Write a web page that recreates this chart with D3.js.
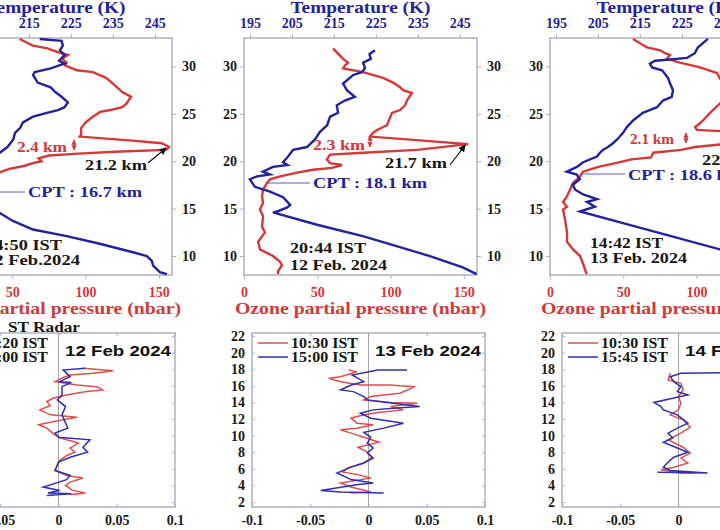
<!DOCTYPE html>
<html lang="en">
<head>
<meta charset="UTF-8" />
<title>Ozonesonde and ST radar profiles</title>
<script src="https://cdn.jsdelivr.net/npm/d3@7"></script>
<style>
  body { margin: 0; background: #fff; }
  svg { display: block; }
</style>
</head>
<body>
<svg width="720" height="530"></svg>
<script>
// ---- ozonesonde profiles: [altitude km, temperature K] ----
const temp12a = [[32.9,217.6],[32.7,222.8],[32.2,223.1],[31.7,222.4],[31.2,223.5],[30.6,222.2],[30.3,223.5],[29.8,220.2],[29.4,216.4],[29.1,216.0],[28.3,217.1],[27.8,220.2],[27.3,221.3],[26.8,222.8],[26.2,224.3],[25.7,223.5],[25.4,221.9],[25.1,219.3],[24.7,216.0],[24.1,213.6],[23.5,212.9],[23.0,211.7],[22.3,211.3],[21.5,209.9],[20.9,208.1],[20.3,206.5],[19.6,204.5],[18.8,202.0],[18.0,200.0],[17.3,198.0],[16.7,196.5],[16.2,198.5],[15.6,201.5],[15.1,204.5],[14.7,207.5],[13.7,211.2],[12.8,216.0],[12.1,224.0],[11.3,231.9],[10.4,239.8],[10.0,243.1],[9.5,244.3],[9.0,244.6],[8.3,246.2],[8.1,247.9]];
const temp12b = [[31.7,224.8],[31.3,223.5],[30.8,223.8],[30.4,222.0],[29.8,222.4],[29.4,221.7],[29.1,219.6],[28.2,217.2],[27.5,218.1],[26.8,220.0],[26.4,217.6],[25.9,215.7],[25.1,216.0],[24.7,214.1],[23.8,213.4],[23.1,211.7],[22.3,210.5],[21.5,208.6],[21.2,205.3],[20.5,204.1],[19.9,202.9],[19.6,204.0],[19.4,200.5],[18.9,198.1],[18.6,199.8],[18.4,196.7],[18.1,195.0],[17.3,196.2],[16.8,199.8],[16.2,202.9],[15.4,204.6],[15.1,203.8],[14.7,201.5],[14.6,200.5],[13.3,211.0],[12.1,221.9],[10.0,237.9],[8.8,245.7],[8.1,249.0]];
const temp13 = [[32.9,231.2],[32.0,228.8],[31.4,228.1],[30.9,226.2],[30.8,223.8],[30.7,221.5],[30.6,218.6],[30.3,217.4],[29.9,217.9],[29.6,220.3],[28.8,221.7],[28.2,222.2],[27.5,222.9],[26.8,222.6],[26.4,220.5],[25.7,219.1],[25.1,215.7],[24.3,213.4],[23.6,211.9],[23.0,211.0],[22.3,209.6],[21.9,208.6],[21.5,207.4],[21.2,206.2],[20.9,205.5],[20.5,204.8],[19.9,201.5],[19.4,200.0],[18.9,197.6],[18.6,200.0],[18.1,200.7],[17.5,199.0],[17.0,199.6],[16.5,201.5],[16.0,204.8],[15.7,202.4],[15.2,204.3],[14.7,200.7],[10.7,234.1],[9.5,242.0],[8.1,248.0]];

// ---- ozone partial pressure: [altitude km, nbar] ----
const ozone12a = [[32.9,55],[32.2,64],[31.9,74],[31.5,81],[31.2,88],[30.8,84],[30.4,87],[30.1,86],[29.6,94],[29.4,105],[28.8,114],[28.0,120],[27.3,125],[26.8,131],[26.1,128],[25.7,125],[25.4,117],[25.2,110],[24.7,105],[24.1,100],[23.5,97],[22.8,97],[22.6,96],[22.2,130],[21.9,152],[21.5,157],[21.2,155],[21.0,120],[20.8,95],[20.6,75],[20.3,68],[20.0,70],[19.8,64],[19.5,58],[19.2,48],[18.8,41],[18.3,32],[17.8,24],[17.2,18],[16.5,15],[15.8,13],[15.0,12],[14.2,13],[13.3,11],[12.5,12],[11.6,10],[10.8,12],[10.0,17],[9.3,21],[8.6,22],[8.1,23]];
const ozone12b = [[31.9,60.7],[30.8,67.6],[30.4,71],[30.1,68.9],[29.8,67.6],[29.4,81.2],[28.8,94.9],[28.3,101.7],[27.8,106.5],[27.5,108.5],[27.2,114.6],[26.4,111.2],[25.9,109.9],[25.4,106.5],[25.1,101],[24.6,99.6],[23.8,97.6],[23.3,90.8],[23.0,88],[22.6,86],[22.2,120],[21.8,153],[21.2,118],[20.9,81.2],[20.7,58.7],[20.2,56.6],[19.8,58.7],[19.6,66.9],[19.3,60],[19.1,47.1],[18.8,36.2],[18.4,24.6],[18.1,17.7],[17.7,15.7],[17.0,13],[16.3,12.3],[15.6,13],[14.9,10.9],[14.2,13],[13.1,12.3],[12.5,14.3],[11.5,9.6],[10.7,10.9],[10.0,19.8],[9.4,24.6],[9.0,25.9],[8.4,23.2],[8.1,23.2]];
const ozone13 = [[32.9,56.6],[32.0,66.2],[31.7,75.1],[31.4,78.5],[31.2,81.9],[30.8,79.8],[30.4,88.7],[29.9,102.4],[29.3,114],[28.7,116],[28.0,122],[27.3,128],[26.8,126],[26.1,116],[25.1,109.2],[24.3,104.4],[24.0,102.4],[23.6,99],[23.3,100.3],[23.1,125],[22.7,150],[22.4,156],[22.0,150],[21.8,118],[21.5,99],[21.2,89.5],[20.9,70.5],[20.4,69],[20.2,55.6],[19.8,44.7],[19.4,33],[18.9,22.5],[18.4,20.5],[17.7,15.7],[17.0,13.6],[16.3,11.6],[15.7,8.9],[15.2,11.6],[14.9,8.9],[13.9,10.2],[12.5,11.6],[11.5,11.6],[10.7,15.7],[10.0,20.5],[9.0,23],[8.1,25]];

const sondeTimes = ["14:50 IST", "20:44 IST", "14:42 IST"];
const sondeDates = ["12 Feb.2024", "12 Feb. 2024", "13 Feb. 2024"];
const gapLabels = ["2.4 km", "2.3 km", "2.1 km"];
const peakLabels = ["21.2 km", "21.7 km", "22.4 km"];
const cptLabels = ["CPT : 16.7 km", "CPT : 18.1 km", "CPT : 18.6 km"];
const tempTicks = [195, 205, 215, 225, 235, 245];
const ozoneTicks = [0, 50, 100, 150];
const altTicks = [10, 15, 20, 25, 30];

// ---- ST radar profiles: [altitude km, value] ----
const radar12am = [[18.1,0.021],[17.8,0.047],[17.5,0.030],[17.3,0.010],[17.0,0.004],[16.5,-0.003],[16.1,0.016],[15.9,0.033],[15.5,0.038],[15.3,0.024],[14.9,0.007],[14.5,-0.005],[14.1,-0.010],[13.6,-0.007],[13.1,-0.016],[12.5,-0.007],[12.2,0.016],[11.8,-0.001],[11.3,-0.017],[10.9,-0.010],[10.3,-0.005],[9.8,0.000],[9.5,0.007],[9.1,0.017],[8.5,0.010],[8.0,0.014],[7.6,0.007],[7.0,0.001],[6.4,-0.001],[5.8,-0.003],[5.2,0.007],[4.9,0.021],[4.4,0.010],[4.0,0.006],[3.4,0.012],[3.1,0.023],[2.9,0.010]];
const radar12pm = [[18.1,0.023],[17.9,0.004],[17.1,0.010],[16.5,0.001],[16.4,0.011],[15.9,0.003],[14.9,0.003],[14.3,-0.001],[13.5,0.006],[12.5,0.003],[10.9,0.008],[10.3,-0.003],[9.8,0.000],[9.5,0.027],[8.6,0.021],[8.0,0.025],[7.4,0.010],[6.8,0.000],[5.8,-0.003],[5.2,0.010],[4.7,0.007],[3.8,-0.013],[3.4,0.001],[3.1,-0.009],[3.0,0.011],[2.8,-0.010]];
const radar13am = [[17.9,-0.017],[17.7,-0.010],[17.1,-0.024],[16.9,-0.034],[16.5,-0.024],[16.1,-0.007],[16.1,0.019],[16.0,0.027],[15.9,0.040],[15.1,0.027],[14.9,0.013],[14.7,0.002],[14.3,-0.004],[14.0,0.019],[13.9,0.042],[13.5,0.019],[13.1,0.030],[12.8,0.010],[12.5,-0.004],[12.1,-0.015],[11.5,-0.010],[11.3,0.004],[10.9,-0.010],[10.7,-0.024],[10.3,-0.015],[9.8,-0.004],[9.2,0.009],[8.6,-0.009],[8.0,-0.001],[7.4,0.003],[6.7,-0.004],[6.1,-0.018],[5.6,-0.022],[5.3,-0.009],[4.9,0.002],[4.3,-0.024],[3.8,-0.015],[3.2,0.002],[3.1,-0.015]];
const radar13pm = [[17.9,0.033],[17.9,0.008],[17.3,-0.014],[16.9,-0.009],[16.5,-0.004],[16.1,-0.015],[15.5,-0.024],[15.3,-0.013],[14.7,-0.004],[14.3,-0.001],[14.0,0.016],[13.5,0.044],[13.3,0.021],[13.1,0.004],[12.7,-0.007],[12.1,0.002],[11.5,0.030],[10.9,0.013],[10.4,-0.004],[9.8,0.002],[9.1,-0.001],[8.5,0.004],[7.9,-0.001],[7.3,0.004],[6.7,-0.004],[6.2,-0.015],[5.5,-0.027],[4.7,-0.015],[4.3,0.004],[4.1,-0.009],[3.4,-0.041],[3.2,-0.024],[3.1,0.013]];
const radar14am = [[17.5,-0.007],[16.7,-0.009],[16.3,0.002],[15.5,0.004],[14.7,0.000],[13.9,0.002],[13.1,0.000],[12.5,-0.007],[11.9,0.004],[11.0,0.010],[10.3,0.002],[9.5,-0.009],[8.6,0.004],[7.9,0.010],[7.3,0.002],[6.7,0.008],[6.2,-0.004],[5.9,-0.015],[5.5,0.002],[5.5,0.013]];
const radar14pm = [[17.6,0.060],[17.5,0.002],[17.1,-0.007],[16.5,-0.004],[15.9,0.002],[15.3,-0.001],[14.9,0.008],[14.5,-0.005],[14.0,-0.021],[13.5,-0.015],[13.1,-0.013],[12.5,-0.001],[11.5,0.008],[10.9,-0.001],[10.3,-0.009],[9.7,-0.005],[9.2,-0.013],[8.5,-0.001],[8.0,0.008],[7.4,-0.004],[6.8,-0.009],[6.2,-0.013],[5.8,-0.007],[5.5,0.025],[5.6,-0.018]];

const radarDates = ["12 Feb 2024", "13 Feb 2024", "14 Feb 2024"];
const radarTimes = [["10:20 IST", "15:00 IST"], ["10:30 IST", "15:00 IST"], ["10:30 IST", "15:45 IST"]];
const radarXTicks = [-0.1, -0.05, 0, 0.05, 0.1];
const radarYTicks = [2, 4, 6, 8, 10, 12, 14, 16, 18, 20, 22];

// ---- layout ----
const W = 233;
const topLeft = [-61, 244, 550];
const botLeft = [-58, 252, 562];
const serif = "'Liberation Serif', 'DejaVu Serif', serif";
const blue = "#22229c", red = "#d43838", boxCol = "#aeb0c2";

const svg = d3.select("svg");
const defs = svg.append("defs");
defs.append("marker").attr("id", "headBlack")
  .attr("viewBox", "0 0 10 10").attr("refX", 9).attr("refY", 5)
  .attr("markerWidth", 6).attr("markerHeight", 6).attr("orient", "auto")
  .append("path").attr("d", "M0,0L10,5L0,10z").attr("fill", "#111");
defs.append("marker").attr("id", "headRed")
  .attr("viewBox", "0 0 10 10").attr("refX", 9).attr("refY", 5)
  .attr("markerWidth", 4).attr("markerHeight", 4).attr("orient", "auto-start-reverse")
  .append("path").attr("d", "M0,0L10,5L0,10z").attr("fill", red);

function txt(g, s, x, y, size, fill, w, anchor) {
  const t = g.append("text")
    .attr("x", x).attr("y", y)
    .attr("font-family", serif).attr("font-weight", "bold")
    .attr("font-size", size).attr("fill", fill)
    .text(s);
  if (anchor) t.attr("text-anchor", anchor);
  if (w) t.attr("textLength", w).attr("lengthAdjust", "spacingAndGlyphs");
  return t;
}

function styleAxis(sel, color) {
  sel.select(".domain").remove();
  sel.selectAll(".tick line").attr("stroke", boxCol);
  sel.selectAll(".tick text")
    .attr("font-family", serif).attr("font-weight", "bold")
    .attr("font-size", 14).attr("fill", color);
}

// ---- top row: ozonesonde ----
const yTop = d3.scaleLinear().domain([8, 33]).range([275, 38]);
const xOz = d3.scaleLinear().domain([0, 159]).range([0, W]);
const xT = d3.scaleLinear().domain([193.6, 249.1]).range([0, W]);

const sondeTemp = [temp12a, temp12b, temp13];
const sondeOzone = [ozone12a, ozone12b, ozone13];

const topNotes = [
  { gap: [78, 152, 50], gapArrow: [135, 137, 153], peak: [146, 170], from: [209, 163], cpt: [89, 197], cptLine: [20, 86, 192], stamp: [46, 250, 265], tw: [77, 95] },
  { gap: [69, 150, 52], gapArrow: [126, 133, 150], peak: [141, 168], from: [206, 165], cpt: [69, 188], cptLine: [24, 66, 183], stamp: [46, 253, 270], tw: [76, 97] },
  { gap: [80, 144, 44], gapArrow: [136, 130, 146], peak: [152, 165], from: [216, 160], cpt: [78, 180], cptLine: [33, 75, 174], stamp: [40, 248, 263], tw: [73, 97] }
];

const tempLine = d3.line().x(d => xT(d[1])).y(d => yTop(d[0]));
const ozLine = d3.line().x(d => xOz(d[1])).y(d => yTop(d[0]));

sondeTemp.forEach((tp, i) => {
  const g = svg.append("g").attr("transform", `translate(${topLeft[i]},0)`);
  const n = topNotes[i];

  g.append("rect").attr("x", 0).attr("y", 38).attr("width", W).attr("height", 237)
    .attr("fill", "none").attr("stroke", boxCol).attr("stroke-width", 1.5);

  g.append("g").attr("transform", "translate(0,38)")
    .call(d3.axisTop(xT).tickValues(tempTicks).tickSize(4).tickPadding(6))
    .call(s => styleAxis(s, blue));
  g.append("g").attr("transform", "translate(0,275)")
    .call(d3.axisBottom(xOz).tickValues(ozoneTicks).tickSize(4).tickPadding(8))
    .call(s => styleAxis(s, red));
  g.append("g").attr("transform", `translate(${W},0)`)
    .call(d3.axisRight(yTop).tickValues(altTicks).tickSize(4).tickPadding(6))
    .call(s => styleAxis(s, "#1a1a1a"));
  g.append("g")
    .call(d3.axisLeft(yTop).tickValues(altTicks).tickSize(4).tickPadding(3))
    .call(s => styleAxis(s, "#1a1a1a"));

  txt(g, "Temperature (K)", W / 2, 13, 16, blue, 140, "middle");
  txt(g, "Ozone partial pressure (nbar)", W / 2, 314, 16, red, 251, "middle");

  g.append("path").datum(sondeOzone[i]).attr("d", ozLine)
    .attr("fill", "none").attr("stroke", red).attr("stroke-width", 2.4);
  g.append("path").datum(tp).attr("d", tempLine)
    .attr("fill", "none").attr("stroke", blue).attr("stroke-width", 2.4);

  // annotations
  txt(g, gapLabels[i], n.gap[0], n.gap[1], 14, red, n.gap[2]);
  g.append("line").attr("x1", n.gapArrow[0]).attr("x2", n.gapArrow[0])
    .attr("y1", n.gapArrow[1] + 3).attr("y2", n.gapArrow[2] - 3)
    .attr("stroke", red).attr("stroke-width", 1.3)
    .attr("marker-start", "url(#headRed)").attr("marker-end", "url(#headRed)");

  const peak = d3.greatest(sondeOzone[i], d => d[1]);
  txt(g, peakLabels[i], n.peak[0], n.peak[1], 14, "#161616", 62);
  g.append("line").attr("x1", n.from[0]).attr("y1", n.from[1])
    .attr("x2", xOz(peak[1]) - 3).attr("y2", yTop(peak[0]) + 1)
    .attr("stroke", "#111").attr("stroke-width", 1.2)
    .attr("marker-end", "url(#headBlack)");

  g.append("line").attr("x1", n.cptLine[0]).attr("x2", n.cptLine[1])
    .attr("y1", n.cptLine[2]).attr("y2", n.cptLine[2])
    .attr("stroke", "#5b5bc0").attr("stroke-width", 1);
  txt(g, cptLabels[i], n.cpt[0], n.cpt[1], 14, blue, 114);

  txt(g, sondeTimes[i], n.stamp[0], n.stamp[1], 14, "#161616", n.tw[0]);
  txt(g, sondeDates[i], n.stamp[0], n.stamp[2], 14, "#161616", n.tw[1]);
});

// ---- bottom row: ST radar ----
const yBot = d3.scaleLinear().domain([1.4, 22.36]).range([507, 333]);
const xBot = d3.scaleLinear().domain([-0.1, 0.1]).range([0, W]);
const radarAm = [radar12am, radar13am, radar14am];
const radarPm = [radar12pm, radar13pm, radar14pm];
const radarLine = d3.line().x(d => xBot(d[1])).y(d => yBot(d[0]));
const redLight = "#dd4f4f", blueLight = "#2f2fb0";

radarAm.forEach((am, i) => {
  const g = svg.append("g").attr("transform", `translate(${botLeft[i]},0)`);

  g.append("line").attr("x1", xBot(0)).attr("x2", xBot(0)).attr("y1", 333).attr("y2", 507)
    .attr("stroke", "#9a9a9a").attr("stroke-width", 0.9);
  g.append("rect").attr("x", 0).attr("y", 333).attr("width", W).attr("height", 174)
    .attr("fill", "none").attr("stroke", boxCol).attr("stroke-width", 1.5);

  g.append("g").attr("transform", "translate(0,507)")
    .call(d3.axisBottom(xBot).tickValues(radarXTicks).tickSize(-3).tickPadding(8)
      .tickFormat(d => d === 0 ? "0" : String(d)))
    .call(s => styleAxis(s, "#1a1a1a"));
  g.append("g").attr("transform", "translate(0,333)")
    .call(d3.axisTop(xBot).tickValues(radarXTicks).tickSize(-3).tickFormat(""))
    .call(s => styleAxis(s, "#1a1a1a"));
  g.append("g")
    .call(d3.axisLeft(yBot).tickValues(radarYTicks).tickSize(-3).tickPadding(7))
    .call(s => styleAxis(s, "#1a1a1a"));
  g.append("g").attr("transform", `translate(${W},0)`)
    .call(d3.axisRight(yBot).tickValues(radarYTicks).tickSize(-3).tickFormat(""))
    .call(s => styleAxis(s, "#1a1a1a"));

  g.append("path").datum(am).attr("d", radarLine)
    .attr("fill", "none").attr("stroke", redLight).attr("stroke-width", 1.5);
  g.append("path").datum(radarPm[i]).attr("d", radarLine)
    .attr("fill", "none").attr("stroke", blueLight).attr("stroke-width", 1.5);

  // legend
  [redLight, blueLight].forEach((c, k) => {
    const y = 343 + k * 14;
    g.append("line").attr("x1", 6).attr("x2", 36).attr("y1", y).attr("y2", y)
      .attr("stroke", c).attr("stroke-width", 1.5);
    txt(g, radarTimes[i][k], 39, y + 5, 14, "#161616", 67);
  });

  g.append("text").attr("x", 123).attr("y", 356)
    .attr("font-family", "'Liberation Sans', Arial, sans-serif").attr("font-weight", "bold")
    .attr("font-size", 15).attr("fill", "#111")
    .attr("textLength", 106).attr("lengthAdjust", "spacingAndGlyphs")
    .text(radarDates[i]);
});

txt(svg, "ST Radar", 8, 332, 14, "#161616", 72);
</script>
</body>
</html>
